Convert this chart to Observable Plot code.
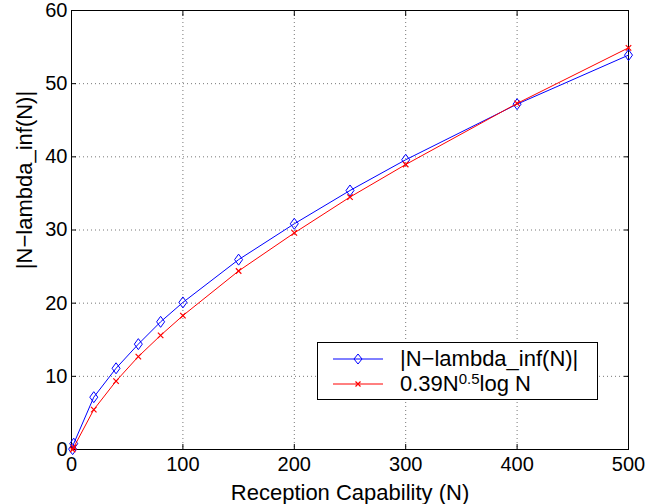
<!DOCTYPE html>
<html>
<head>
<meta charset="utf-8">
<script src="https://cdn.jsdelivr.net/npm/d3@7"></script>
<script src="https://cdn.jsdelivr.net/npm/@observablehq/plot@0.6"></script>
<style>
  body { margin: 0; background: #fff; }
  #wrap { position: relative; width: 668px; height: 504px; font-family: "Liberation Sans", Arial, Helvetica, sans-serif; }
  #legend { position: absolute; left: 317px; top: 342px; width: 279px; height: 56px; border: 1px solid #000; background: #fff; box-sizing: content-box; }
  .row { position: absolute; left: 0; height: 26px; display: flex; align-items: center; font-size: 22px; line-height: 26px; color: #000; white-space: nowrap; }
  .row svg { margin-left: 15px; margin-right: 17px; }
  sup { font-size: 15px; line-height: 15px; vertical-align: 7px; }
</style>
</head>
<body>
<div id="wrap"></div>
<script>
// Data
const N = [1, 2, 20, 40, 60, 80, 100, 150, 200, 250, 300, 400, 500];
const lambdaDiff = [0.05, 0.8, 7.15, 11.1, 14.4, 17.45, 20.1, 25.95, 30.85, 35.4, 39.6, 47.2, 53.9];
const approx = [0, 0.3, 5.45, 9.35, 12.7, 15.6, 18.3, 24.4, 29.6, 34.5, 38.95, 47.3, 54.9];
const xTicks = [0, 100, 200, 300, 400, 500];
const yTicks = [0, 10, 20, 30, 40, 50, 60];
const xLabel = "Reception Capability (N)";
const yLabel = "|N\u2212lambda_inf(N)|";
const seriesNames = ["|N\u2212lambda_inf(N)|", "0.39N<sup>0.5</sup>log N"];

const blueData = N.map((n, i) => ({n, v: lambdaDiff[i]}));
const redData = N.map((n, i) => ({n, v: approx[i]}));

const tallDiamond = {
  draw(context, size) {
    const r = Math.sqrt(size / Math.PI);
    const w = r * 0.8, h = r * 1.1;
    context.moveTo(0, -h);
    context.lineTo(w, 0);
    context.lineTo(0, h);
    context.lineTo(-w, 0);
    context.closePath();
  }
};

const font = "Liberation Sans, Arial, Helvetica, sans-serif";

const chart = Plot.plot({
  width: 668,
  height: 504,
  marginLeft: 71,
  marginRight: 40,
  marginTop: 10,
  marginBottom: 55,
  style: { fontFamily: font, background: "white", color: "black" },
  x: { domain: [0, 500], ticks: xTicks },
  y: { domain: [0, 60], ticks: yTicks },
  marks: [
    Plot.gridX(xTicks.slice(1, -1), { stroke: "#777", strokeOpacity: 1, strokeDasharray: "1,3" }),
    Plot.gridY(yTicks.slice(1, -1), { stroke: "#777", strokeOpacity: 1, strokeDasharray: "1,3" }),
    Plot.frame({ stroke: "black", strokeWidth: 1 }),
    Plot.axisX(xTicks, { anchor: "bottom", tickSize: -5, tickPadding: 12, fontSize: 20, label: null }),
    Plot.axisX(xTicks, { anchor: "top", tickSize: -5, tickFormat: () => "", label: null }),
    Plot.axisY(yTicks, { anchor: "left", tickSize: -5, tickPadding: 9, fontSize: 20, label: null }),
    Plot.axisY(yTicks, { anchor: "right", tickSize: -5, tickFormat: () => "", label: null }),
    Plot.line(blueData, { x: "n", y: "v", stroke: "#0000ff", strokeWidth: 1 }),
    Plot.dot(blueData, { x: "n", y: "v", stroke: "#0000ff", strokeWidth: 1, symbol: tallDiamond, r: 5, fill: "none" }),
    Plot.line(redData, { x: "n", y: "v", stroke: "#ff0000", strokeWidth: 1 }),
    Plot.dot(redData, { x: "n", y: "v", stroke: "#ff0000", strokeWidth: 1.2, symbol: "times", r: 2.6 }),
    Plot.text([xLabel], { text: d => d, frameAnchor: "bottom", textAnchor: "middle", lineAnchor: "middle", dy: 43, fontSize: 22, fill: "black" }),
    Plot.text([yLabel], { text: d => d, frameAnchor: "left", textAnchor: "middle", lineAnchor: "middle", dx: -47, dy: -50, rotate: -90, fontSize: 22, fill: "black" })
  ]
});

const wrap = document.getElementById("wrap");
wrap.appendChild(chart);

// Legend
const legend = document.createElement("div");
legend.id = "legend";
const sym = [
  `<svg width="50" height="14"><line x1="0" y1="7" x2="50" y2="7" stroke="#0000ff" stroke-width="1"/><path d="M25,2 L29,7 L25,12 L21,7 Z" fill="none" stroke="#0000ff" stroke-width="1"/></svg>`,
  `<svg width="50" height="14"><line x1="0" y1="7" x2="50" y2="7" stroke="#ff0000" stroke-width="1"/><path d="M22.5,4.5 L27.5,9.5 M27.5,4.5 L22.5,9.5" stroke="#ff0000" stroke-width="1.2"/></svg>`
];
seriesNames.forEach((name, i) => {
  const row = document.createElement("div");
  row.className = "row";
  row.style.top = (i === 0 ? 2.5 : 28) + "px";
  row.innerHTML = sym[i] + `<span>${name}</span>`;
  legend.appendChild(row);
});
wrap.appendChild(legend);
</script>
</body>
</html>
